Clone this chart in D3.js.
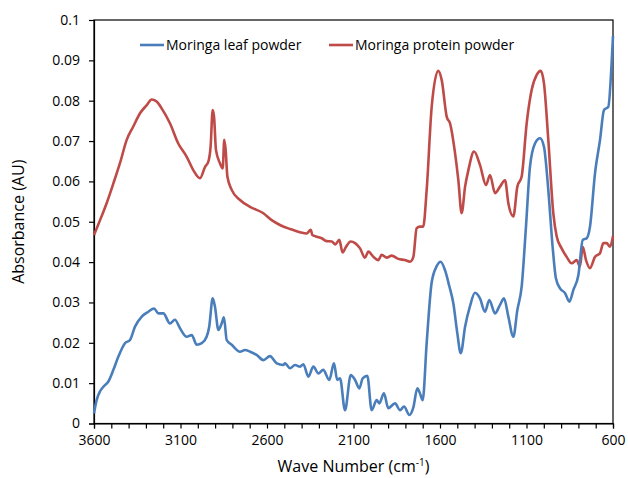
<!DOCTYPE html>
<html><head><meta charset="utf-8">
<script src="https://cdn.jsdelivr.net/npm/d3@7"></script>
<style>body{margin:0;background:#fff}svg{display:block}text{font-family:"Open Sans",sans-serif;fill:#000}</style>
</head><body><svg id="c" width="628" height="478"></svg>
<script>
const seriesNames = ["Moringa leaf powder", "Moringa protein powder"];
const seriesColors = ["#4a7ebb", "#be4b48"];
const xTicks = [3600, 3100, 2600, 2100, 1600, 1100, 600];
const yTicks = [0, 0.01, 0.02, 0.03, 0.04, 0.05, 0.06, 0.07, 0.08, 0.09, 0.1];
const yTickLabels = ["0", "0.01", "0.02", "0.03", "0.04", "0.05", "0.06", "0.07", "0.08", "0.09", "0.1"];

const leafWn = [3600,3585,3565,3546,3517,3488,3459,3421,3392,3363,3324,3286,3253,3228,3199,3161,3132,3103,3064,3035,3006,2977,2949,2934,2914,2901,2881,2862,2849,2833,2804,2756,2727,2698,2660,2621,2583,2544,2506,2496,2467,2438,2409,2390,2361,2332,2303,2275,2240,2213,2194,2178,2149,2116,2091,2066,2047,2020,1995,1966,1951,1924,1899,1860,1831,1808,1777,1754,1731,1716,1700,1677,1648,1619,1596,1571,1546,1523,1500,1480,1455,1427,1398,1369,1340,1315,1282,1253,1230,1205,1176,1153,1128,1103,1080,1051,1022,999,974,949,930,906,877,852,829,800,775,752,733,704,675,652,627,607,600];
const leafAbs = [0.0025,0.0058,0.0080,0.0091,0.0104,0.0133,0.0166,0.0199,0.0207,0.0240,0.0265,0.0277,0.0285,0.0273,0.0273,0.0248,0.0257,0.0236,0.0215,0.0219,0.0195,0.0199,0.0215,0.0240,0.0310,0.0290,0.0232,0.0248,0.0263,0.0207,0.0195,0.0178,0.0182,0.0178,0.0170,0.0157,0.0167,0.0149,0.0145,0.0149,0.0137,0.0145,0.0141,0.0147,0.0116,0.0141,0.0124,0.0133,0.0108,0.0149,0.0108,0.0112,0.0033,0.0120,0.0108,0.0087,0.0112,0.0118,0.0033,0.0058,0.0050,0.0075,0.0038,0.0050,0.0033,0.0042,0.0021,0.0040,0.0087,0.0075,0.0058,0.0200,0.0350,0.0390,0.0401,0.0380,0.0340,0.0298,0.0224,0.0174,0.0240,0.0290,0.0324,0.0310,0.0277,0.0306,0.0273,0.0294,0.0310,0.0265,0.0215,0.0281,0.0339,0.0488,0.0636,0.0694,0.0707,0.0686,0.0579,0.0438,0.0360,0.0335,0.0323,0.0302,0.0331,0.0368,0.0455,0.0459,0.0488,0.0620,0.0703,0.0777,0.0785,0.0901,0.0960];

const protWn = [3600,3565,3527,3488,3450,3411,3373,3334,3295,3267,3238,3209,3161,3113,3064,3026,2987,2958,2939,2926,2914,2906,2895,2872,2856,2847,2839,2829,2804,2756,2698,2621,2573,2525,2467,2409,2371,2347,2338,2313,2284,2255,2226,2205,2182,2163,2143,2116,2091,2062,2034,2014,1985,1957,1937,1908,1879,1841,1803,1773,1754,1735,1716,1697,1677,1648,1610,1590,1561,1542,1513,1494,1475,1455,1436,1403,1369,1334,1311,1282,1253,1224,1205,1176,1153,1128,1099,1070,1041,1018,999,974,945,925,897,868,839,810,791,775,756,733,704,675,656,637,617,600];
const protAbs = [0.0467,0.0504,0.0546,0.0595,0.0645,0.0703,0.0736,0.0769,0.0789,0.0803,0.0798,0.0781,0.0744,0.0694,0.0661,0.0628,0.0608,0.0636,0.0649,0.0686,0.0777,0.0760,0.0678,0.0645,0.0632,0.0703,0.0678,0.0612,0.0579,0.0554,0.0537,0.0521,0.0504,0.0492,0.0482,0.0474,0.0471,0.0480,0.0467,0.0463,0.0459,0.0452,0.0451,0.0444,0.0455,0.0424,0.0438,0.0451,0.0447,0.0434,0.0411,0.0426,0.0413,0.0405,0.0418,0.0411,0.0416,0.0408,0.0405,0.0401,0.0413,0.0484,0.0488,0.0488,0.0579,0.0785,0.0874,0.0851,0.0760,0.0744,0.0670,0.0603,0.0521,0.0587,0.0628,0.0674,0.0641,0.0591,0.0616,0.0571,0.0587,0.0603,0.0546,0.0513,0.0587,0.0612,0.0744,0.0827,0.0864,0.0874,0.0843,0.0703,0.0521,0.0463,0.0434,0.0413,0.0397,0.0405,0.0389,0.0438,0.0405,0.0385,0.0413,0.0422,0.0447,0.0447,0.0438,0.0465];

const svg = d3.select("#c");
const L = 94, R = 613, T = 20, B = 423.5;
const x = d3.scaleLinear().domain([3600, 600]).range([L, R]);
const y = d3.scaleLinear().domain([0, 0.1]).range([B, T]);

// frame
svg.append("rect").attr("x", L).attr("y", T).attr("width", R - L).attr("height", B - T)
  .attr("fill", "none").attr("stroke", "#000").attr("stroke-width", 1.2);

// x axis
const xMinor = d3.range(3600, 599, -100);
const xAxis = svg.append("g").attr("transform", `translate(0,${B})`)
  .call(d3.axisBottom(x).tickValues(xMinor).tickSize(5).tickPadding(7)
    .tickFormat(d => xTicks.includes(d) ? String(d) : ""));
xAxis.select(".domain").attr("stroke", "#000").attr("stroke-width", 1.2);
xAxis.selectAll(".tick line").attr("stroke", "#000").attr("stroke-width", 1.2);
xAxis.selectAll("text").style("font-size", "14px").attr("fill", "#000");

// y axis
const yAxis = svg.append("g").attr("transform", `translate(${L},0)`)
  .call(d3.axisLeft(y).tickValues(yTicks).tickSize(5).tickPadding(9)
    .tickFormat((d, i) => yTickLabels[i]));
yAxis.select(".domain").attr("stroke", "#000").attr("stroke-width", 1.2);
yAxis.selectAll(".tick line").attr("stroke", "#000").attr("stroke-width", 1.2);
yAxis.selectAll("text").style("font-size", "14px").attr("fill", "#000");

// lines
const line = d3.line().x(d => x(d[0])).y(d => y(d[1])).curve(d3.curveMonotoneX);
const leafData = leafWn.map((w, i) => [w, leafAbs[i]]);
const protData = protWn.map((w, i) => [w, protAbs[i]]);
svg.append("path").datum(protData).attr("d", line).attr("fill", "none")
  .attr("stroke", seriesColors[1]).attr("stroke-width", 2.6).attr("stroke-linejoin", "round");
svg.append("path").datum(leafData).attr("d", line).attr("fill", "none")
  .attr("stroke", seriesColors[0]).attr("stroke-width", 2.6).attr("stroke-linejoin", "round");

// legend
const legX = [140, 329];
seriesNames.forEach((n, i) => {
  svg.append("line").attr("x1", legX[i]).attr("x2", legX[i] + 24).attr("y1", 45).attr("y2", 45)
    .attr("stroke", seriesColors[i]).attr("stroke-width", 2.6);
  svg.append("text").attr("x", legX[i] + 26).attr("y", 45).attr("dy", "0.35em")
    .style("font-size", "14px").text(n);
});

// axis titles
const xt = svg.append("text").attr("x", (L + R) / 2).attr("y", 472).attr("text-anchor", "middle")
  .style("font-size", "16px");
xt.append("tspan").text("Wave Number (cm");
xt.append("tspan").attr("dy", -6).style("font-size", "10px").text("-1");
xt.append("tspan").attr("dy", 6).text(")");

svg.append("text").attr("transform", `translate(24,${(T + B) / 2}) rotate(-90)`)
  .attr("text-anchor", "middle").style("font-size", "16px").text("Absorbance (AU)");
</script></body></html>
